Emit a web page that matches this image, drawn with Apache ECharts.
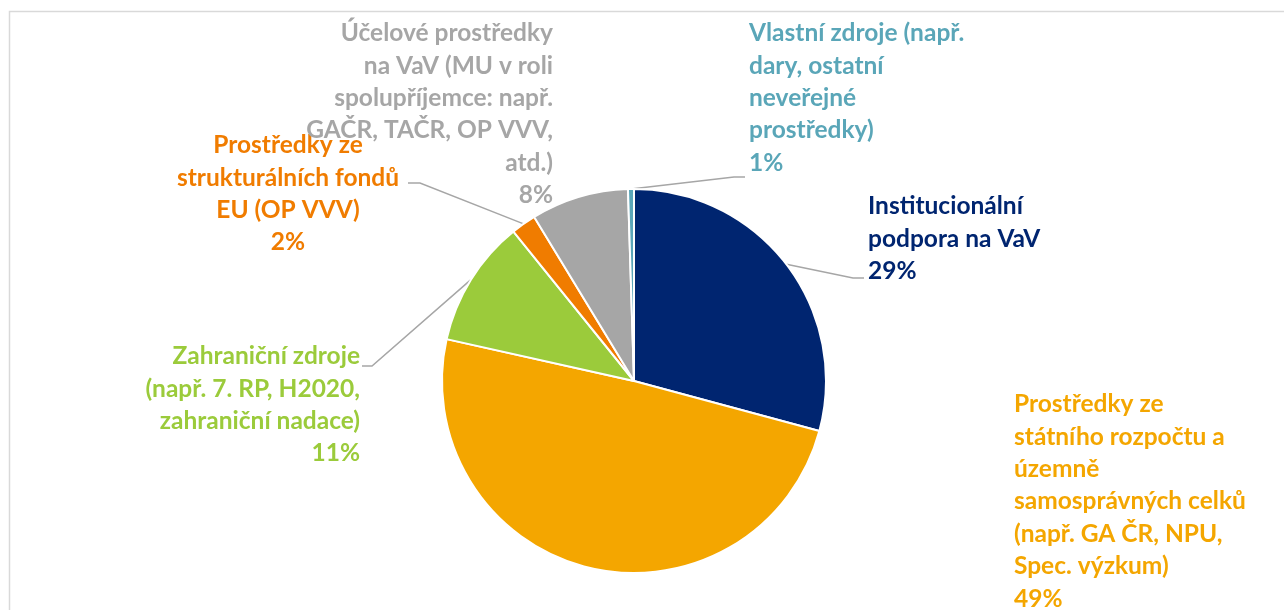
<!DOCTYPE html>
<html>
<head>
<meta charset="utf-8">
<script src="https://cdn.jsdelivr.net/npm/echarts@6/dist/echarts.min.js"></script>
<style>
  html, body { margin: 0; padding: 0; background: #fff; }
  #chart { width: 1284px; height: 610px; }
</style>
</head>
<body>
<div id="chart"></div>
<script>
// categories (wrapped as in the original) and shares in %
var categories = [
  "Institucionální\npodpora na VaV",
  "Prostředky ze\nstátního rozpočtu a\núzemně\nsamosprávných celků\n(např. GA ČR, NPU,\nSpec. výzkum)",
  "Zahraniční zdroje\n(např. 7. RP, H2020,\nzahraniční nadace)",
  "Prostředky ze\nstrukturálních fondů\nEU (OP VVV)",
  "Účelové prostředky\nna VaV (MU v roli\nspolupříjemce: např.\nGAČR, TAČR, OP VVV,\natd.)",
  "Vlastní zdroje (např.\ndary, ostatní\nneveřejné\nprostředky)"
];
var shares = [29.2, 49.3, 10.7, 2.1, 8.2, 0.5];
var colors = ["#002570", "#f4a600", "#9bcb3b", "#f07c00", "#a6a6a6", "#5aa6b8"];

// where each label sits (Excel placed them by hand)
var labelPos = [
  { x: 868, y: 190, align: "left", line: [[853, 278], [864, 278]] },
  { x: 1014, y: 388, align: "left" },
  { x: 360, y: 340, align: "right", line: [[372, 366], [362, 366]] },
  { x: 288, y: 129, align: "center", line: [[420, 183], [408, 183]] },
  { x: 553, y: 17, align: "right" },
  { x: 749, y: 17, align: "left", line: [[734, 177], [745, 177]] }
];

var myChart = echarts.init(document.getElementById("chart"));

myChart.setOption({
  animation: false,
  graphic: [
    {
      type: "rect",
      shape: { x: 9.5, y: 11.5, width: 1400, height: 700 },
      style: { fill: "none", stroke: "#d9d9d9", lineWidth: 1.5 },
      silent: true
    }
  ],
  series: [
    {
      type: "pie",
      center: [634, 381],
      radius: 192,
      startAngle: 90,
      clockwise: true,
      avoidLabelOverlap: false,
      itemStyle: { borderColor: "#fff", borderWidth: 2 },
      label: {
        show: true,
        position: "outside",
        fontFamily: "Lato",
        fontWeight: "bold",
        fontSize: 24.5,
        lineHeight: 32.4,
        formatter: function (p) {
          return p.name + "\n" + Math.round(p.percent) + "%";
        }
      },
      labelLine: {
        show: true,
        lineStyle: { color: "#a6a6a6", width: 1.5 }
      },
      labelLayout: function (params) {
        var p = labelPos[params.dataIndex];
        var out = { x: p.x, y: p.y, align: p.align, verticalAlign: "top" };
        if (p.line && params.labelLinePoints) {
          out.labelLinePoints = [params.labelLinePoints[0], p.line[0], p.line[1]];
        }
        return out;
      },
      data: categories.map(function (name, i) {
        return {
          name: name,
          value: shares[i],
          itemStyle: { color: colors[i] },
          label: { color: colors[i] },
          labelLine: { show: !!labelPos[i].line }
        };
      })
    }
  ]
});
</script>
</body>
</html>
